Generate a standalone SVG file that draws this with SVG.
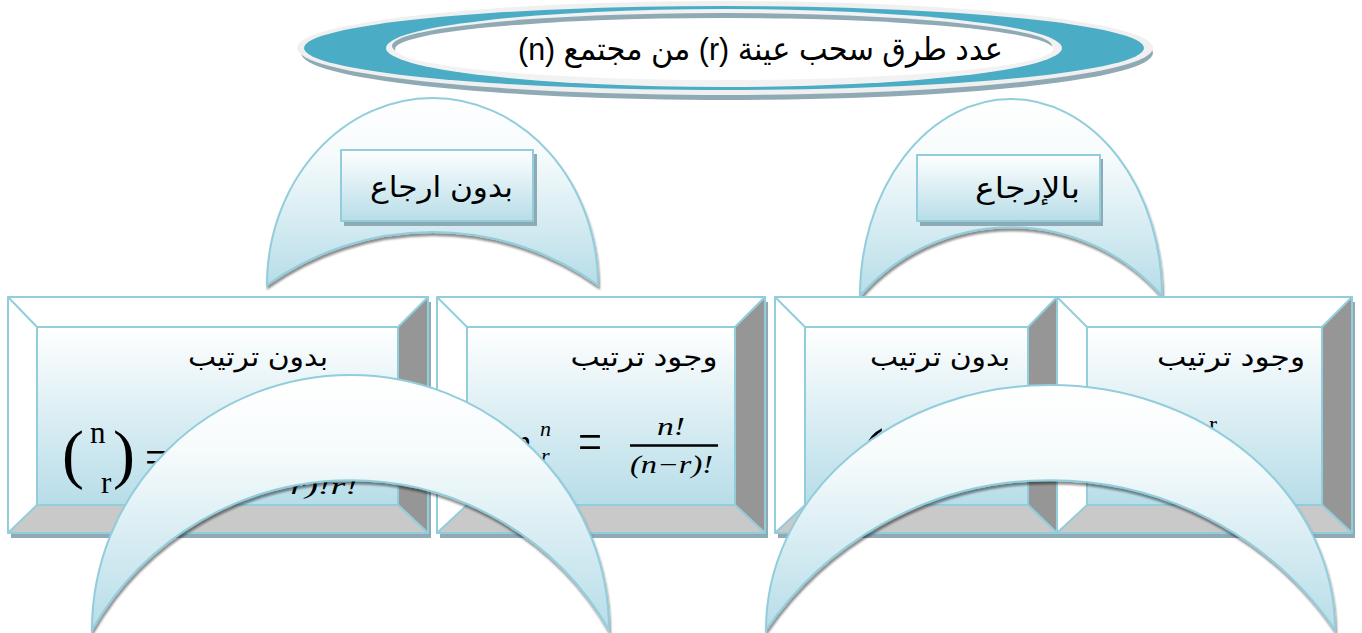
<svg xmlns="http://www.w3.org/2000/svg" width="1362" height="633" viewBox="0 0 1362 633">
<defs>
<linearGradient id="gArch" x1="0" y1="0" x2="0" y2="1">
<stop offset="0" stop-color="#ffffff"/><stop offset="0.3" stop-color="#f6fbfc"/><stop offset="1" stop-color="#b7dde8"/>
</linearGradient>
<linearGradient id="gBox" x1="0" y1="0" x2="0" y2="1">
<stop offset="0" stop-color="#ffffff"/><stop offset="1" stop-color="#b7dde8"/>
</linearGradient>
<filter id="sh" x="-5%" y="-5%" width="110%" height="115%">
<feGaussianBlur in="SourceAlpha" stdDeviation="1.2"/>
<feOffset dx="1" dy="3"/>
<feComponentTransfer><feFuncA type="linear" slope="0.45"/></feComponentTransfer>
<feMerge><feMergeNode/><feMergeNode in="SourceGraphic"/></feMerge>
</filter>
</defs>
<style>
.ln{stroke:#92cddc;stroke-width:2;stroke-linejoin:round}
.arch{fill:url(#gArch);stroke:#92cddc;stroke-width:2;filter:url(#sh)}
.outer{fill:#ffffff}
.rb{fill:#969696}
.bb{fill:#c9c9c9}
.inner{fill:url(#gBox)}
.shd{fill:#8faab5}
.ar{font-family:"Liberation Sans","DejaVu Sans",sans-serif;fill:#000}
.m{font-family:"Liberation Serif","DejaVu Serif",serif;fill:#000}
.mi{font-family:"Liberation Serif","DejaVu Serif",serif;font-style:italic;fill:#000}
</style>

<!-- top arches -->
<g id="arch-without-replacement">
<path class="arch" d="M267,285 A165.5,187 0 0 1 598,285 A285,285 0 0 0 267,285 Z"/>
<rect class="shd" x="344" y="154" width="193" height="72"/>
<rect class="inner ln" x="341" y="150" width="192" height="71"/>
<text class="ar" x="441.5" y="197" font-size="29" text-anchor="middle" direction="rtl" textLength="143" lengthAdjust="spacingAndGlyphs">بدون ارجاع</text>
</g>
<g id="arch-with-replacement">
<path class="arch" d="M860,296 A151,197 0 0 1 1162,296 A200,200 0 0 0 860,296 Z"/>
<rect class="shd" x="920" y="159" width="183" height="67"/>
<rect class="inner ln" x="917" y="155" width="183" height="66"/>
<text class="ar" x="1027.5" y="198" font-size="29" text-anchor="middle" direction="rtl" textLength="105" lengthAdjust="spacingAndGlyphs">بالإرجاع</text>
</g>

<!-- title -->
<g id="title">
<ellipse cx="727" cy="53" rx="426" ry="47" fill="#8faab5"/>
<ellipse cx="725" cy="48" rx="428" ry="47" fill="#f0f0f0"/>
<ellipse cx="724" cy="48" rx="420" ry="42" fill="#4bacc6"/>
<ellipse cx="724" cy="48" rx="338" ry="39" fill="#f2f2f2"/>
<ellipse cx="722" cy="46" rx="330" ry="33" fill="#8faab5"/>
<ellipse cx="724" cy="49" rx="329" ry="31" fill="#ffffff"/>
<text class="ar" x="760.5" y="60" font-size="32" text-anchor="middle" direction="rtl" textLength="485" lengthAdjust="spacingAndGlyphs">عدد طرق سحب عينة (r) من مجتمع (n)</text>
</g>

<!-- bottom boxes -->
<g id="box-combination">
<rect class="shd" x="11" y="302" width="420" height="236"/>
<rect class="outer ln" x="8" y="297" width="420" height="236"/>
<polygon class="rb ln" points="428,297 428,533 398,505 398,327"/>
<polygon class="bb ln" points="8,533 428,533 398,505 37,505"/>
<line class="ln" x1="8" y1="297" x2="37" y2="327"/>
<rect class="inner ln" x="37" y="327" width="361" height="178"/>
<text class="ar" x="258" y="366" font-size="27" text-anchor="middle" direction="rtl" textLength="140" lengthAdjust="spacingAndGlyphs">بدون ترتيب</text>
<text class="m" x="62" y="476" font-size="66">(</text>
<text class="m" x="90" y="443" font-size="31">n</text>
<text class="m" x="101" y="493" font-size="31">r</text>
<text class="m" x="113" y="476" font-size="66">)</text>
<text class="m" transform="translate(145,474) scale(1,1.6)" font-size="32" textLength="24" lengthAdjust="spacingAndGlyphs">=</text>
<text class="mi" x="295" y="460" font-size="24" text-anchor="middle">n!</text>
<line x1="233" y1="470" x2="358" y2="470" stroke="#000" stroke-width="2"/>
<text class="mi" x="233" y="494" font-size="24" textLength="125" lengthAdjust="spacingAndGlyphs">(n−r)!r!</text>
</g>

<g id="box-permutation">
<rect class="shd" x="440" y="302" width="328" height="236"/>
<rect class="outer ln" x="437" y="297" width="328" height="236"/>
<polygon class="rb ln" points="765,297 765,533 735,505 735,327"/>
<polygon class="bb ln" points="437,533 765,533 735,505 467,505"/>
<line class="ln" x1="437" y1="297" x2="467" y2="327"/>
<rect class="inner ln" x="467" y="327" width="268" height="178"/>
<text class="ar" x="644" y="366" font-size="27" text-anchor="middle" direction="rtl" textLength="147" lengthAdjust="spacingAndGlyphs">وجود ترتيب</text>
<text class="mi" x="514" y="452" font-size="32">p</text>
<text class="mi" x="540" y="436" font-size="22">n</text>
<text class="mi" x="541" y="463" font-size="22">r</text>
<text class="m" transform="translate(578,461) scale(1,1.7)" font-size="34" textLength="24" lengthAdjust="spacingAndGlyphs">=</text>
<text class="mi" x="657" y="435" font-size="25" textLength="28" lengthAdjust="spacingAndGlyphs">n!</text>
<line x1="630" y1="445.5" x2="718" y2="445.5" stroke="#000" stroke-width="2.5"/>
<text class="mi" x="630" y="473" font-size="25" textLength="83" lengthAdjust="spacingAndGlyphs">(n−r)!</text>
</g>

<g id="box-combination-replacement">
<rect class="shd" x="778" y="302" width="282" height="236"/>
<rect class="outer ln" x="775" y="297" width="282" height="236"/>
<polygon class="rb ln" points="1057,297 1057,533 1028,505 1028,327"/>
<polygon class="bb ln" points="775,533 1057,533 1028,505 805,505"/>
<line class="ln" x1="775" y1="297" x2="805" y2="327"/>
<rect class="inner ln" x="805" y="327" width="223" height="178"/>
<text class="ar" x="940" y="366" font-size="27" text-anchor="middle" direction="rtl" textLength="140" lengthAdjust="spacingAndGlyphs">بدون ترتيب</text>
<text class="m" x="862" y="474" font-size="66">(</text>
<text class="m" x="882" y="445" font-size="28">n+r−1</text>
<text class="m" x="908" y="493" font-size="28">r</text>
<text class="m" x="952" y="474" font-size="66">)</text>
</g>

<g id="box-permutation-replacement">
<rect class="shd" x="1060" y="302" width="295" height="236"/>
<rect class="outer ln" x="1057" y="297" width="295" height="236"/>
<polygon class="rb ln" points="1352,297 1352,533 1322,505 1322,327"/>
<polygon class="bb ln" points="1057,533 1352,533 1322,505 1087,505"/>
<line class="ln" x1="1057" y1="297" x2="1087" y2="327"/>
<rect class="inner ln" x="1087" y="327" width="235" height="178"/>
<text class="ar" x="1231" y="366" font-size="27" text-anchor="middle" direction="rtl" textLength="148" lengthAdjust="spacingAndGlyphs">وجود ترتيب</text>
<text class="m" x="1188" y="470" font-size="34">n</text>
<text class="m" x="1209" y="432" font-size="24">r</text>
</g>

<!-- bottom arches -->
<g id="arch-bottom-left">
<path class="arch" d="M92,630 A258.5,255 0 0 1 609,630 A298,298 0 0 0 92,630 Z"/>
</g>
<g id="arch-bottom-right">
<path class="arch" d="M766,630 A284.5,245 0 0 1 1335,630 A345,345 0 0 0 766,630 Z"/>
</g>

<g id="connectors"/>
</svg>
